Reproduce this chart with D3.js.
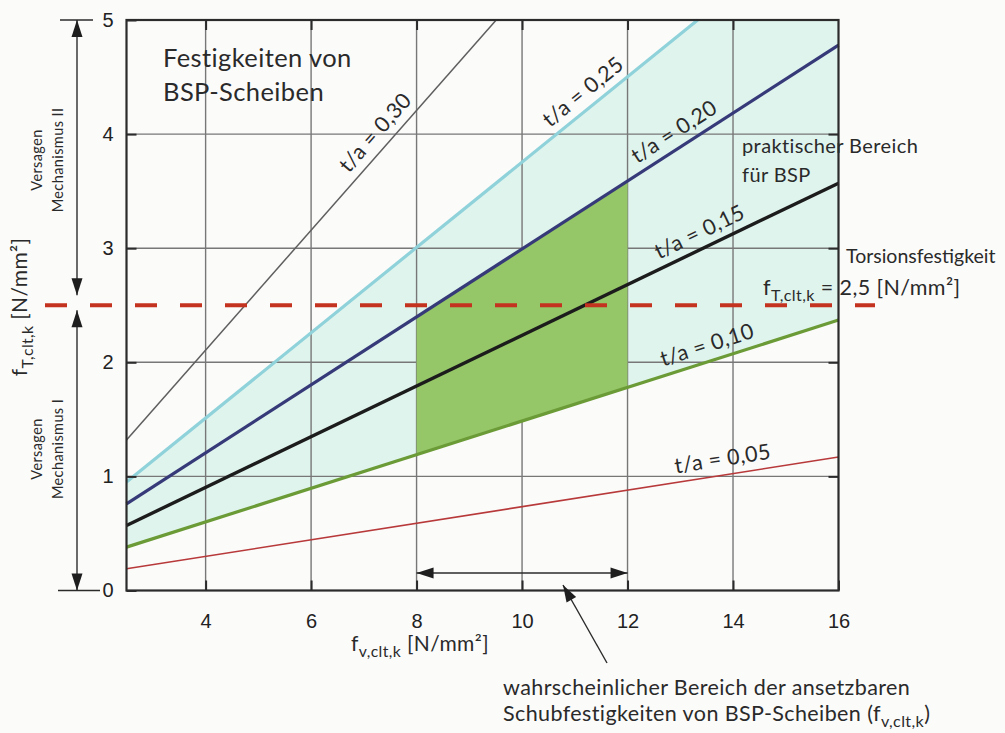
<!DOCTYPE html>
<html>
<head>
<meta charset="utf-8">
<script src="https://cdn.jsdelivr.net/npm/d3@7"></script>
<style>
  html, body { margin: 0; padding: 0; background: #fbfbfa; }
  svg { display: block; }
  .txt { font-family: Lato, "Noto Sans", sans-serif; fill: #2a2a2a; letter-spacing: 0.4px; }
  .num { font-family: "Liberation Sans", Arial, sans-serif; fill: #222; }
</style>
</head>
<body>
<svg id="chart" width="1005" height="733"></svg>
<script>
// Shear strength f_v,clt,k (x) vs. torsion strength f_T,clt,k (y) for CLT plates
const xTicks = [4, 6, 8, 10, 12, 14, 16];
const yTicks = [0, 1, 2, 3, 4, 5];
const ratioLabels = ["0,05", "0,10", "0,15", "0,20", "0,25", "0,30"];
const startX = [2.5, 2.5, 2.5, 2.5, 2.5, 2.5];
const startY = [0.19, 0.38, 0.57, 0.76, 0.95, 1.32];
const endX = [16, 16, 16, 16, 13.33, 9.51];
const endY = [1.17, 2.37, 3.57, 4.78, 5, 5];
const lineColors = ["#b8393a", "#6b9b36", "#1c1c1c", "#363a78", "#8fd2da", "#5e5e5e"];
const lineWidths = [1.6, 3.2, 3.4, 3.2, 3.2, 1.5];
const labelAtX = [13.85, 13.6, 13.5, 13.05, 11.35, 7.45];
const torsionLimit = 2.5;          // f_T,clt,k = 2,5 N/mm²
const practicalRange = [8, 12];    // probable f_v,clt,k range

const svg = d3.select("#chart");
const x = d3.scaleLinear().domain([2.5, 16]).range([126.5, 838.5]);
const y = d3.scaleLinear().domain([0, 5]).range([590.5, 20]);

const lineY = (i, xv) => startY[i] + (endY[i] - startY[i]) * (xv - startX[i]) / (endX[i] - startX[i]);

// pale band between t/a = 0,10 and t/a = 0,25
const band = [
  [startX[1], startY[1]], [endX[1], endY[1]], [16, 5],
  [endX[4], endY[4]], [startX[4], startY[4]]
];
svg.append("path")
  .attr("d", d3.line().x(d => x(d[0])).y(d => y(d[1]))(band) + "Z")
  .attr("fill", "#e0f4ee");

// grid
const grid = svg.append("g").attr("stroke", "#777").attr("stroke-width", 1.4);
grid.selectAll(".gx").data(xTicks.filter(v => v < 16)).join("line")
  .attr("x1", d => x(d)).attr("x2", d => x(d)).attr("y1", y(0)).attr("y2", y(5));
grid.selectAll(".gy").data(yTicks.filter(v => v > 0 && v < 5)).join("line")
  .attr("x1", x(2.5)).attr("x2", x(16)).attr("y1", d => y(d)).attr("y2", d => y(d));

// practical region for CLT: 8..12 between t/a = 0,10 and t/a = 0,20
const [p0, p1] = practicalRange;
const dark = [[p0, lineY(1, p0)], [p1, lineY(1, p1)], [p1, lineY(3, p1)], [p0, lineY(3, p0)]];
svg.append("path")
  .attr("d", d3.line().x(d => x(d[0])).y(d => y(d[1]))(dark) + "Z")
  .attr("fill", "#95c668");

// t/a lines
ratioLabels.forEach((lab, i) => {
  svg.append("line")
    .attr("x1", x(startX[i])).attr("y1", y(startY[i]))
    .attr("x2", x(endX[i])).attr("y2", y(endY[i]))
    .attr("stroke", lineColors[i]).attr("stroke-width", lineWidths[i]);
});

// frame
svg.append("rect").attr("x", x(2.5)).attr("y", y(5))
  .attr("width", x(16) - x(2.5)).attr("height", y(0) - y(5))
  .attr("fill", "none").attr("stroke", "#2b2b2b").attr("stroke-width", 2.2);

// axes with inward ticks
const styleAxis = g => {
  g.select(".domain").remove();
  g.selectAll(".tick line").attr("stroke", "#2b2b2b").attr("stroke-width", 2);
};
svg.append("g").attr("transform", `translate(0,${y(0)})`)
  .call(d3.axisBottom(x).tickValues(xTicks).tickSizeInner(-10).tickPadding(23).tickFormat(d3.format("d")))
  .call(styleAxis)
  .call(g => g.selectAll("text").attr("class", "num").attr("font-size", 20));
svg.append("g").attr("transform", `translate(0,${y(5)})`)
  .call(d3.axisTop(x).tickValues(xTicks.filter(v => v < 16)).tickSizeInner(-10).tickFormat(""))
  .call(styleAxis);
svg.append("g").attr("transform", `translate(${x(2.5)},0)`)
  .call(d3.axisLeft(y).tickValues(yTicks).tickSizeInner(-10).tickPadding(13).tickFormat(d3.format("d")))
  .call(styleAxis)
  .call(g => g.selectAll("text").attr("class", "num").attr("font-size", 20));
svg.append("g").attr("transform", `translate(${x(16)},0)`)
  .call(d3.axisRight(y).tickValues(yTicks.filter(v => v > 0 && v < 5)).tickSizeInner(-10).tickFormat(""))
  .call(styleAxis);

// line labels, rotated along each line
ratioLabels.forEach((lab, i) => {
  const xv = labelAtX[i];
  const px = x(xv), py = y(lineY(i, xv));
  const ang = Math.atan2(y(endY[i]) - y(startY[i]), x(endX[i]) - x(startX[i])) * 180 / Math.PI;
  svg.append("text").attr("class", "txt")
    .attr("transform", `translate(${px},${py}) rotate(${ang})`)
    .attr("y", -9).attr("text-anchor", "middle").attr("font-size", 21.5)
    .attr("xml:space", "preserve")
    .text("t/a = " + lab);
});

// torsion strength limit
svg.append("line")
  .attr("x1", 45).attr("x2", 875).attr("y1", y(torsionLimit)).attr("y2", y(torsionLimit))
  .attr("stroke", "#c4331f").attr("stroke-width", 4).attr("stroke-dasharray", "22,23");

// arrow helper
function arrowHead(tip, from, len = 17, half = 5.5) {
  const dx = tip[0] - from[0], dy = tip[1] - from[1];
  const L = Math.hypot(dx, dy), ux = dx / L, uy = dy / L;
  const bx = tip[0] - ux * len, by = tip[1] - uy * len;
  svg.append("path")
    .attr("d", `M${tip[0]},${tip[1]}L${bx - uy * half},${by + ux * half}L${bx + uy * half},${by - ux * half}Z`)
    .attr("fill", "#1e1e1e");
}
function arrow(a, b, both) {
  svg.append("line").attr("x1", a[0]).attr("y1", a[1]).attr("x2", b[0]).attr("y2", b[1])
    .attr("stroke", "#2b2b2b").attr("stroke-width", 1.4);
  arrowHead(b, a);
  if (both) arrowHead(a, b);
}

// mechanism ranges on the left
const ax = 77;
arrow([ax, y(5)], [ax, y(torsionLimit) - 10], true);
arrow([ax, y(torsionLimit) + 5], [ax, y(0)], true);
svg.append("line").attr("x1", 60).attr("x2", 93).attr("y1", y(5)).attr("y2", y(5))
  .attr("stroke", "#2b2b2b").attr("stroke-width", 1.4);
svg.append("line").attr("x1", 58).attr("x2", 100).attr("y1", y(0)).attr("y2", y(0))
  .attr("stroke", "#2b2b2b").attr("stroke-width", 1.4);

function vtext(cx, cy, str, size) {
  svg.append("text").attr("class", "txt")
    .attr("transform", `translate(${cx},${cy}) rotate(-90)`)
    .attr("text-anchor", "middle").attr("dy", "0.35em").attr("font-size", size).text(str);
}
vtext(37, 160, "Versagen", 14.5);
vtext(58, 160, "Mechanismus II", 14.5);
vtext(37, 449, "Versagen", 14.5);
vtext(58, 449, "Mechanismus I", 14.5);

// range of f_v,clt,k
arrow([x(practicalRange[0]), 573], [x(practicalRange[1]), 573], true);
arrow([607, 663], [563, 585], false);

// axis titles with subscripts
function subLabel(sel, base, sub, tail, size) {
  sel.append("tspan").text(base);
  sel.append("tspan").attr("font-size", size * 0.75).attr("dy", size * 0.3).text(sub);
  sel.append("tspan").attr("dy", -size * 0.3).text(tail);
}
const yl = svg.append("text").attr("class", "txt")
  .attr("transform", "translate(27,307) rotate(-90)")
  .attr("text-anchor", "middle").attr("font-size", 21).attr("xml:space", "preserve");
subLabel(yl, "f", "T,clt,k", " [N/mm²]", 21);

const xl = svg.append("text").attr("class", "txt")
  .attr("x", 420).attr("y", 651).attr("text-anchor", "middle").attr("font-size", 21)
  .attr("xml:space", "preserve");
subLabel(xl, "f", "v,clt,k", " [N/mm²]", 21);

// titles and notes
const t1 = svg.append("text").attr("class", "txt").attr("font-size", 25.5);
t1.append("tspan").attr("x", 163).attr("y", 67).text("Festigkeiten von");
t1.append("tspan").attr("x", 163).attr("y", 101).text("BSP-Scheiben");

const t2 = svg.append("text").attr("class", "txt").attr("font-size", 20);
t2.append("tspan").attr("x", 742).attr("y", 153).text("praktischer Bereich");
t2.append("tspan").attr("x", 742).attr("y", 182).text("für BSP");

svg.append("text").attr("class", "txt").attr("font-size", 19.5).style("letter-spacing", "0px")
  .attr("x", 846).attr("y", 263).text("Torsionsfestigkeit");
const t3 = svg.append("text").attr("class", "txt").attr("font-size", 21.5)
  .attr("x", 763).attr("y", 295).attr("xml:space", "preserve");
subLabel(t3, "f", "T,clt,k", " = 2,5 [N/mm²]", 21.5);

svg.append("text").attr("class", "txt").attr("font-size", 21.5)
  .attr("x", 503).attr("y", 695).text("wahrscheinlicher Bereich der ansetzbaren");
const t4 = svg.append("text").attr("class", "txt").attr("font-size", 21.5)
  .attr("x", 503).attr("y", 721).attr("xml:space", "preserve");
subLabel(t4, "Schubfestigkeiten von BSP-Scheiben (f", "v,clt,k", ")", 21.5);
</script>
</body>
</html>
